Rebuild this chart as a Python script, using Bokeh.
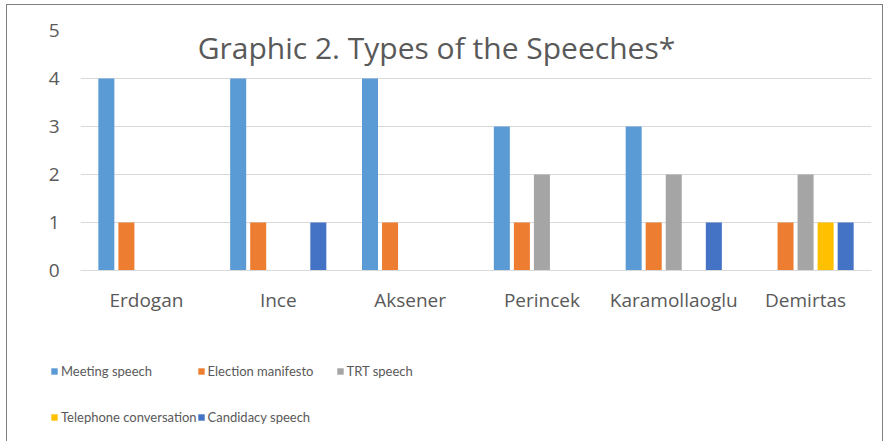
from bokeh.plotting import figure
from bokeh.models import (ColumnDataSource, FactorRange, Legend, LegendItem, Label,
                          SingleIntervalTicker, Range1d)
from bokeh.transform import dodge
from bokeh.embed import file_html
from bokeh.resources import INLINE

# ---- data ----
candidates = ["Erdogan", "Ince", "Aksener", "Perincek", "Karamollaoglu", "Demirtas"]
series_names = ["Meeting speech", "Election manifesto", "TRT speech",
                "Telephone conversation", "Candidacy speech"]
meeting_speech = [4, 4, 4, 3, 3, 0]
election_manifesto = [1, 1, 1, 1, 1, 1]
trt_speech = [0, 0, 0, 2, 2, 2]
telephone_conversation = [0, 0, 0, 0, 0, 1]
candidacy_speech = [0, 1, 0, 0, 1, 1]
colors = ["#5B9BD5", "#ED7D31", "#A5A5A5", "#FFC000", "#4472C4"]
title_text = "Graphic 2. Types of the Speeches*"

src = ColumnDataSource(dict(x=candidates,
                            s0=meeting_speech, s1=election_manifesto,
                            s2=trt_speech, s3=telephone_conversation,
                            s4=candidacy_speech))

TXT = "#595959"
GRID = "#D9D9D9"
BORDER = "1px solid #7F7F7F"

H1 = 330
H2 = 107

p = figure(width=877, height=H1, x_range=FactorRange(*candidates),
           y_range=(0, 5), output_backend="svg", toolbar_location=None,
           min_border_left=73, min_border_right=13, min_border_top=25,
           min_border_bottom=65)
p.outline_line_color = None
p.styles = {"border-left": BORDER, "border-top": BORDER, "border-right": BORDER,
            "margin-left": "6px", "margin-top": "4px"}
p.x_range.range_padding = 0
p.x_range.factor_padding = 0

step = 0.152
bw = 0.1215
for i, name in enumerate(series_names):
    p.vbar(x=dodge("x", (i - 2) * step, range=p.x_range), top="s%d" % i,
           width=bw, source=src, fill_color=colors[i], line_color=None)

# axes
p.yaxis.ticker = SingleIntervalTicker(interval=1)
for ax in (p.xaxis, p.yaxis):
    ax.major_tick_line_color = None
    ax.minor_tick_line_color = None
    ax.major_label_text_color = TXT
    ax.major_label_text_font = "Open Sans"
    ax.major_label_text_font_size = "19px"
p.yaxis.axis_line_color = None
p.xaxis.axis_line_color = GRID
p.yaxis.major_label_standoff = 15
p.xaxis.major_label_standoff = 10
p.xgrid.grid_line_color = None
p.ygrid.grid_line_color = GRID
p.ygrid.grid_line_width = 1

# title inside plot
p.add_layout(Label(x=2.70, y=4.64, text=title_text, text_align="center",
                   text_baseline="middle", text_font="Open Sans",
                   text_font_size="30px", text_color=TXT))

# legend strip below the chart (separate root, same series; bars lie outside its view)
lg = figure(width=877, height=H2, output_backend="svg", toolbar_location=None,
            x_range=FactorRange(*candidates), y_range=Range1d(10, 11),
            x_axis_location=None, y_axis_location=None, min_border=0)
lg.outline_line_color = None
lg.grid.grid_line_color = None
lg.styles = {"border-left": BORDER, "border-right": BORDER, "margin-left": "6px"}
leg_r = [lg.vbar(x="x", top="s%d" % i, width=0.1, source=src, fill_color=c,
                 line_color=None) for i, c in enumerate(colors)]
items = [LegendItem(label=n, renderers=[r]) for n, r in zip(series_names, leg_r)]
legend = Legend(items=items, location=(43, 1), orientation="horizontal",
                ncols=3, glyph_width=8, glyph_height=8, label_standoff=3,
                label_width=128, label_height=46, spacing=0, padding=0, margin=0,
                border_line_color=None, background_fill_alpha=0,
                label_text_font="Lato", label_text_font_size="13px",
                label_text_color=TXT)
lg.add_layout(legend, "center")

open("out.html", "w").write(file_html([p, lg], INLINE))
